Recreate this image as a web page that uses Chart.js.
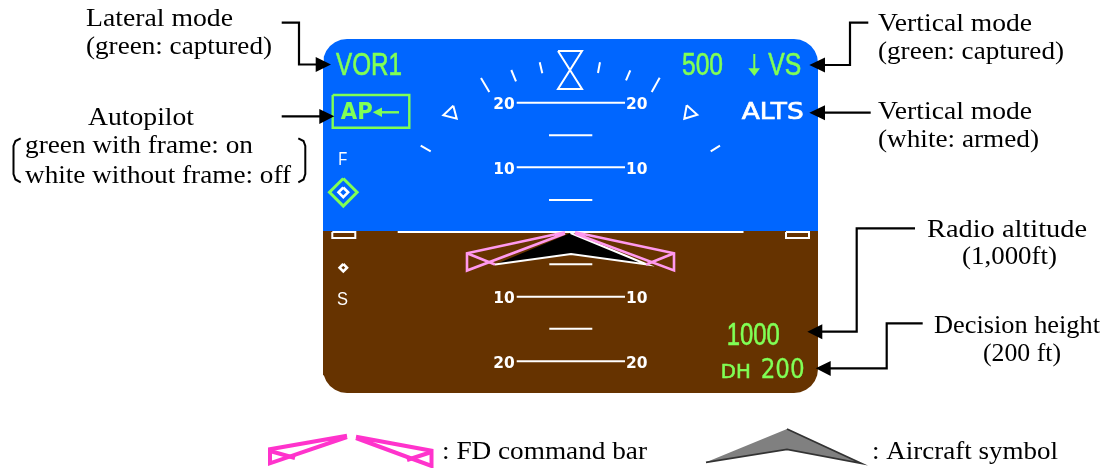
<!DOCTYPE html>
<html>
<head>
<meta charset="utf-8">
<style>
  html, body { margin: 0; padding: 0; background: #fff; }
  canvas { display: block; }
</style>
<script src="https://cdn.jsdelivr.net/npm/chart.js@4"></script>
</head>
<body>
<canvas id="pfd" width="1107" height="468"></canvas>
<script>
// display panel
const skyPanel = [[323,63],[323.8,56.8],[326.2,51],[330,46],[335,42.2],[340.8,39.8],[347,39],[794,39],[800.2,39.8],[806,42.2],[811,46],[814.8,51],[817.2,56.8],[818,63],[818,231],[323,231]];
const groundPanel = [[323,231],[818,231],[818,369],[817.2,375.2],[814.8,381],[811,386],[806,389.8],[800.2,392.2],[794,393],[347,393],[340.8,392.2],[335,389.8],[330,386],[326.2,381],[323.8,375.2],[323,369]];

// white symbology
const rollTicks = [
  [[481,78],[489.3,92]], [[511.3,70],[516,81.3]], [[539.7,62.3],[542.3,73.3]],
  [[600,62.3],[598,73]], [[630.3,70.3],[626,80.3]], [[659.7,77.7],[651.7,92]],
  [[420.7,145.7],[430.7,151.3]], [[720,145.7],[710.7,151.3]]
];
const hourglass = [[558,51],[582,51],[558,89],[582,89],[558,51]];
const bankTriangles = [
  [[453.3,105.7],[443.3,115.3],[456.7,118.7],[453.3,105.7]],
  [[686.7,105.3],[697.3,114.7],[684.3,118.7],[686.7,105.3]]
];
const pitchLines = [
  [[516.7,102.7],[625,102.7]], [[516.7,167.3],[625,167.3]],
  [[516.7,296.7],[625,296.7]], [[516.7,361.3],[625,361.3]]
];
const pitchShortLines = [
  [[549,135.3],[592.3,135.3]], [[549,200],[592.3,200]],
  [[549.3,264.3],[592.3,264.3]], [[549.3,328.7],[592.3,328.7]]
];
const horizonLine = [[397.7,232],[743.5,232]];
const horizonBoxes = [
  [[332.3,232],[355.3,232],[355.3,238],[332.3,238],[332.3,232]],
  [[786,232],[809,232],[809,238],[786,238],[786,232]]
];
const speedDiamonds = [
  [[343.3,187.5],[348.1,192.3],[343.3,197.1],[338.5,192.3],[343.3,187.5]],
  [[343.3,264],[347,267.7],[343.3,271.4],[339.6,267.7],[343.3,264]]
];

// green symbology
const targetDiamond = [[343.3,178.5],[357.1,192.3],[343.3,206.1],[329.5,192.3],[343.3,178.5]];
const apFrame = [[332.7,95],[409.3,95],[409.3,127.7],[332.7,127.7],[332.7,95]];
const apArrowShaft = [[399,112.3],[378,112.3]];
const apArrowHead = [[372.7,112.3],[382,107.5],[382,117]];
const vsArrowShaft = [[754.3,54],[754.3,70]];
const vsArrowHead = [[754.3,76],[748.3,68.3],[760,68.3]];

// flight director and aircraft symbol on the display
const fdBars = [
  [[565,232.3],[467,253.3],[467,270.5],[565,233.5]], [[467,253.3],[495,264.5]],
  [[575,232.3],[674,253.3],[674,270.5],[575,233.5]], [[674,253.3],[646,264.5]]
];
const aircraftSymbol = [[570.5,233],[647,264.5],[571,254],[495,264.5]];

// legend symbols
const legendFdBars = [
  [[347,435.7],[270,449.3],[270,463.3],[347,437]], [[270,451],[295,458]],
  [[356,436.7],[431.5,450.7],[431.5,466],[356,438]], [[431.5,452],[407,460]]
];
const legendAircraft = [[787,429],[861,463.3],[787,449.3],[706,462.3]];

// callouts
const calloutLines = [
  [[281.7,22.7],[299,22.7],[299,64.5],[318,64.5]],
  [[281.7,116.3],[322,116.3]],
  [[868.3,22.7],[850,22.7],[850,65],[822,65]],
  [[870.7,112.7],[822,112.7]],
  [[915,228.3],[856.7,228.3],[856.7,331.7],[820,331.7]],
  [[922.7,323.3],[886.7,323.3],[886.7,368.3],[828,368.3]]
];
const calloutHeads = [
  [[331,64.5],[315.7,57],[315.7,72]],
  [[334.3,116.3],[319.3,109],[319.3,124]],
  [[809.3,65],[825,57.5],[825,72.5]],
  [[809.3,112.7],[825,105.2],[825,120.2]],
  [[807.3,331.7],[822.3,324.2],[822.3,339.2]],
  [[815.7,368.3],[830.7,361],[830.7,376]]
];
const brackets = [
  [[20.7,138.3],[15.5,141],[13.5,146],[13.5,174],[15.5,179.5],[20.7,182.3]],
  [[298.3,138.3],[303.5,141],[305.3,146],[305.3,174],[303.5,179.5],[298.3,182.3]]
];

// text, with the left end, baseline and width of each string
const noteTexts = ['Lateral mode', '(green: captured)', 'Autopilot', 'green with frame: on', 'white without frame: off',
  'Vertical mode', '(green: captured)', 'Vertical mode', '(white: armed)', 'Radio altitude', '(1,000ft)',
  'Decision height', '(200 ft)', ': FD command bar', ': Aircraft symbol'];
const noteSpots = [[86,26],[86,53.5],[88,125],[25,152.5],[25,182.5],
  [878,31],[878,58.5],[878,119],[878,146.5],[927,236.5],[962,264],
  [934,333],[983,361],[442,459],[872,459]];
const noteWidths = [147,186,106,228,266,154,186,154,161,160,95,166,78,205,186];

const greenTexts = ['VOR1', '500', 'VS', '1000'];
const greenSpots = [[336,75],[682,75],[768.3,75],[726.7,345]];
const greenWidths = [66,41,33,53];

const apText = ['AP'];
const apSpot = [[340.7,118.7]];
const apWidth = [32];

const dhTexts = ['DH', '200'];
const dhSpots = [[720.7,377.7],[760.7,377.7]];
const dhWidths = [30,44];

const whiteTexts = ['ALTS'];
const whiteSpots = [[741.7,118.7]];
const whiteWidths = [62];

const speedTexts = ['F', 'S'];
const speedSpots = [[338.3,165],[337,305]];
const speedWidths = [9,11];

const pitchTexts = ['20','20','10','10','10','10','20','20'];
const pitchSpots = [[493.3,109],[626,109],[493.3,174],[626,174],[493.3,303.3],[626,303.3],[493.3,367.7],[626,367.7]];
const pitchWidths = [21.5,21.5,21.5,21.5,21.5,21.5,21.5,21.5];

const BLUE = '#0066ff', BROWN = '#663300', GREEN = '#80ff55', WHITE = '#ffffff';
const PINK = '#ff99ee', MAGENTA = '#ff33cc', BLACK = '#000000';

const toPoints = line => line.map(([x, y]) => ({ x, y }));

const stroke = (line, color, width) => ({
  data: toPoints(line), borderColor: color, borderWidth: width, fill: false
});
const solid = (line, color, edge, width) => ({
  data: toPoints(line), backgroundColor: color, borderColor: edge || color, borderWidth: width || 0, fill: 'shape'
});

// later entries are painted over earlier ones
const shapes = [
  solid(skyPanel, BLUE), solid(groundPanel, BROWN),
  stroke(horizonLine, WHITE, 2.2),
  ...horizonBoxes.map(l => stroke(l, WHITE, 2)),
  ...rollTicks.map(l => stroke(l, WHITE, 2)),
  stroke(hourglass, WHITE, 2),
  ...bankTriangles.map(l => stroke(l, WHITE, 2)),
  ...pitchLines.map(l => stroke(l, WHITE, 2)),
  ...pitchShortLines.map(l => stroke(l, WHITE, 2)),
  stroke(targetDiamond, GREEN, 3),
  ...speedDiamonds.map(l => stroke(l, WHITE, 2.6)),
  stroke(apFrame, GREEN, 2.4),
  stroke(apArrowShaft, GREEN, 2.4), solid(apArrowHead, GREEN),
  stroke(vsArrowShaft, GREEN, 2), solid(vsArrowHead, GREEN),
  solid(aircraftSymbol, BLACK, WHITE, 2),
  ...fdBars.map(l => stroke(l, PINK, 2.6)),
  solid(legendAircraft, '#808080', '#333333', 1.8),
  ...legendFdBars.map(l => stroke(l, MAGENTA, 4)),
  ...calloutLines.map(l => stroke(l, BLACK, 2.2)),
  ...calloutHeads.map(l => solid(l, BLACK)),
  ...brackets.map(l => stroke(l, BLACK, 2))
];

// fillText stretched to the width, heavy adds an outline
function putText(chart, texts, spots, widths, font, color, heavy) {
  const { ctx, scales } = chart;
  ctx.save();
  ctx.font = font;
  ctx.fillStyle = color;
  ctx.strokeStyle = color;
  ctx.lineWidth = heavy || 0;
  ctx.textBaseline = 'alphabetic';
  texts.forEach((text, i) => {
    const x = scales.x.getPixelForValue(spots[i][0]);
    const y = scales.y.getPixelForValue(spots[i][1]);
    ctx.save();
    ctx.translate(x, y);
    ctx.scale(widths[i] / ctx.measureText(text).width, 1);
    ctx.fillText(text, 0, 0);
    if (heavy) ctx.strokeText(text, 0, 0);
    ctx.restore();
  });
  ctx.restore();
}

const textPlugin = {
  id: 'pfdText',
  afterDatasetsDraw(chart) {
    putText(chart, noteTexts, noteSpots, noteWidths, '25px "Liberation Serif"', BLACK);
    putText(chart, greenTexts, greenSpots, greenWidths, '31px "Liberation Sans"', GREEN, 0.6);
    putText(chart, apText, apSpot, apWidth, 'bold 23px "DejaVu Sans"', GREEN);
    putText(chart, dhTexts.slice(0, 1), dhSpots, dhWidths, '20px "DejaVu Sans"', GREEN, 0.6);
    putText(chart, dhTexts.slice(1), dhSpots.slice(1), dhWidths.slice(1), '26px "DejaVu Sans"', GREEN, 0.3);
    putText(chart, whiteTexts, whiteSpots, whiteWidths, '23px "DejaVu Sans"', WHITE, 0.7);
    putText(chart, speedTexts, speedSpots, speedWidths, '18px "Liberation Sans"', WHITE);
    putText(chart, pitchTexts, pitchSpots, pitchWidths, 'bold 16px "DejaVu Sans"', WHITE);
  }
};

new Chart(document.getElementById('pfd'), {
  type: 'scatter',
  data: {
    datasets: shapes.map((shape, i) => ({
      ...shape,
      showLine: true,
      pointRadius: 0,
      tension: 0,
      order: shapes.length - i,
      clip: false
    }))
  },
  options: {
    responsive: false,
    animation: false,
    layout: { padding: 0 },
    plugins: { legend: { display: false }, tooltip: { enabled: false } },
    scales: {
      x: { type: 'linear', min: 0, max: 1107, display: false },
      y: { type: 'linear', min: 0, max: 468, reverse: true, display: false }
    }
  },
  plugins: [textPlugin]
});
</script>
</body>
</html>
